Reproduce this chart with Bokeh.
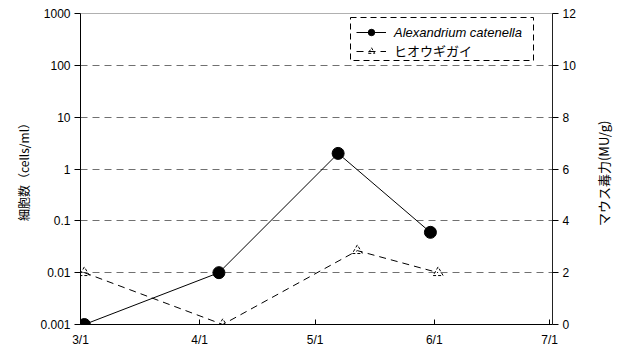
import pandas as pd
from bokeh.plotting import figure
from bokeh.layouts import row
from bokeh.models import (Range1d, LinearAxis, LinearScale, FixedTicker, DatetimeTickFormatter,
                          Legend, LegendItem, BoxAnnotation, Div)
from bokeh.embed import file_html
from bokeh.resources import INLINE

# ---- data ----
cell_dates = ["2005-03-02", "2005-04-06", "2005-05-07", "2005-05-31"]
cell_counts = [0.001, 0.01, 2.0, 0.06]          # cells/ml (log axis)
tox_dates = ["2005-03-02", "2005-04-07", "2005-05-12", "2005-06-02"]
toxicity = [2.0, 0.0, 2.85, 2.0]                 # MU/g (right axis)
month_ticks = ["2005-03-01", "2005-04-01", "2005-05-01", "2005-06-01", "2005-07-01"]
left_ticks = [0.001, 0.01, 0.1, 1, 10, 100, 1000]
left_tick_labels = ["0.001", "0.01", "0.1", "1", "10", "100", "1000"]
right_ticks = [0, 2, 4, 6, 8, 10, 12]
series_names = ["Alexandrium catenella", "ヒオウギガイ"]
left_label = "細胞数（cells/ml）"
right_label = "マウス毒力(MU/g)"

cd = pd.to_datetime(cell_dates)
td = pd.to_datetime(tox_dates)
mt = pd.to_datetime(month_ticks)
mt_ms = [t.value // 10**6 for t in mt]

x0 = mt[0]
x1 = mt[-1] + pd.Timedelta(hours=18)

p = figure(width=585, height=350, output_backend="svg", toolbar_location=None,
           x_axis_type="datetime", y_axis_type="log",
           x_range=Range1d(x0, x1), y_range=Range1d(0.001, 1000),
           min_border_left=80, min_border_right=33, min_border_top=13, min_border_bottom=26)
p.background_fill_color = "white"
p.border_fill_color = "white"
p.outline_line_color = "#b0b0b0"

p.extra_y_ranges = {"tox": Range1d(0, 12)}
p.extra_y_scales = {"tox": LinearScale()}

FONT = "Liberation Sans"
JP = "Noto Sans CJK JP"

# x axis
xa = p.xaxis[0]
xa.ticker = FixedTicker(ticks=mt_ms)
xa.formatter = DatetimeTickFormatter(days="%-m/%-d", months="%-m/%-d", years="%-m/%-d")
xa.major_tick_in = 5
xa.major_tick_out = 0
xa.minor_tick_line_color = None
xa.axis_line_color = "black"
xa.major_tick_line_color = "black"
xa.major_label_text_font = FONT
xa.major_label_text_font_size = "12px"
xa.major_label_text_color = "black"
xa.major_label_standoff = 8

# left axis
ya = p.yaxis[0]
ya.ticker = FixedTicker(ticks=left_ticks)
ya.major_label_overrides = dict(zip(left_ticks, left_tick_labels))
ya.major_tick_in = 0
ya.major_tick_out = 6
ya.minor_tick_line_color = None
ya.axis_line_color = "black"
ya.major_label_standoff = 4
ya.major_label_text_font = FONT
ya.major_label_text_font_size = "12px"
ya.major_label_text_color = "black"
ya.axis_label = left_label
ya.axis_label_text_font = JP
ya.axis_label_text_font_size = "12px"
ya.axis_label_text_font_style = "normal"
ya.axis_label_text_color = "black"
ya.axis_label_standoff = 5

# right axis
ra = LinearAxis(y_range_name="tox", ticker=FixedTicker(ticks=right_ticks))
ra.major_tick_in = 0
ra.major_tick_out = 6
ra.minor_tick_line_color = None
ra.axis_line_color = "#222222"
ra.major_label_standoff = 4
ra.major_label_text_font = FONT
ra.major_label_text_font_size = "12px"
ra.major_label_text_color = "black"
p.add_layout(ra, "right")

# grid
p.xgrid.grid_line_color = None
p.ygrid.ticker = FixedTicker(ticks=left_ticks[1:])
p.ygrid.grid_line_color = "#707070"
p.ygrid.grid_line_dash = "7 5"
p.ygrid.grid_line_width = 1

# series
l1 = p.line(cd, cell_counts, line_color="black", line_width=1)
m1 = p.scatter(cd, cell_counts, marker="circle", size=12, fill_color="black", line_color="black")
l2 = p.line(td, toxicity, y_range_name="tox", line_color="black", line_width=1, line_dash="7 5")
m2 = p.scatter(td, toxicity, y_range_name="tox", marker="triangle", size=10,
               fill_color="white", fill_alpha=0, line_color="black", line_width=1, line_dash="3 2")

common = dict(border_line_alpha=0, background_fill_alpha=0, glyph_width=30, glyph_height=16,
              label_height=16, label_standoff=8, padding=2, margin=0, spacing=0,
              label_text_font_size="13px", label_text_color="black")
leg1 = Legend(items=[LegendItem(label=series_names[0], renderers=[l1, m1])],
              location=(274, 282), label_text_font=FONT, label_text_font_style="italic", **common)
leg2 = Legend(items=[LegendItem(label=series_names[1], renderers=[l2, m2])],
              location=(274, 262), label_text_font=JP, label_text_font_style="normal", **common)
p.add_layout(leg1)
p.add_layout(leg2)

box = BoxAnnotation(left=270, right=453, bottom=264, top=307,
                    left_units="screen", right_units="screen", top_units="screen", bottom_units="screen",
                    fill_alpha=0, line_color="black", line_alpha=1, line_dash="6 4", line_width=1)
p.add_layout(box)

# right-hand axis title, reading bottom-to-top and centred on the plot frame
rdiv = Div(width=28, height=350,
           text=('<div style="width:28px;height:337px;display:flex;align-items:center;'
                 'justify-content:center;overflow:visible;">'
                 '<span style="display:inline-block;white-space:nowrap;transform:rotate(-90deg);'
                 "font-family:'Noto Sans CJK JP';font-size:13px;color:black;\">"
                 + right_label + '</span></div>'))

layout = row(p, rdiv)
open("out.html", "w").write(file_html(layout, INLINE))
